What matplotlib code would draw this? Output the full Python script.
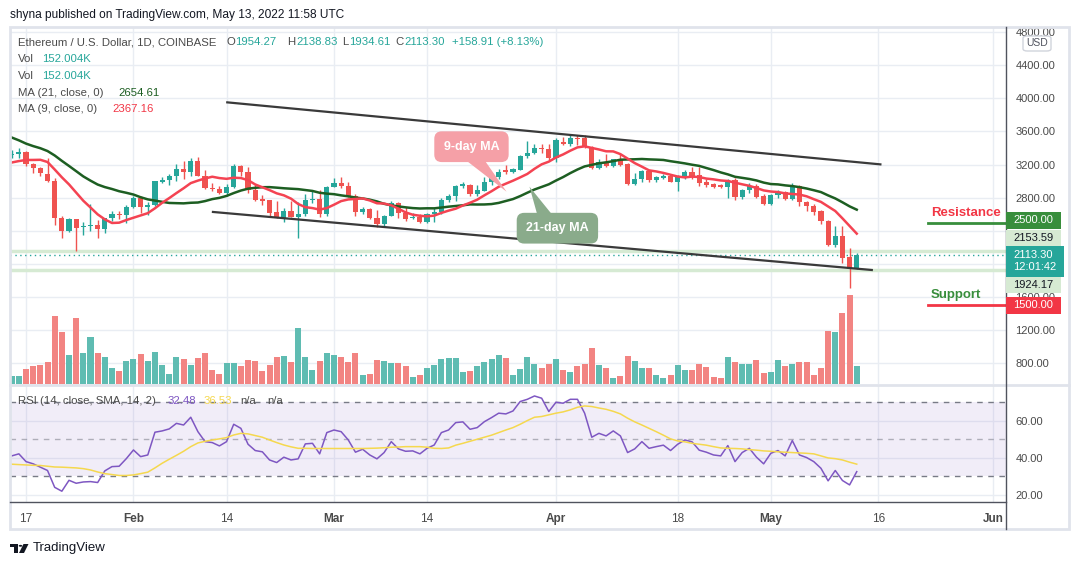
import numpy as np
import pandas as pd
import matplotlib
matplotlib.use("Agg")
import matplotlib.pyplot as plt
import matplotlib.dates as mdates
from matplotlib.lines import Line2D
from matplotlib.patches import Polygon, Rectangle, Circle, FancyBboxPatch
from matplotlib.transforms import blended_transform_factory

plt.rcParams["font.family"] = ["Liberation Sans", "DejaVu Sans"]

# ETH/USD daily candles (Coinbase), 15 Jan - 13 May 2022
first_day = "2022-01-15"
opens = [3310, 3330, 3355, 3207, 3164, 3090, 3000, 2560, 2400, 2540,
         2447, 2463, 2475, 2420, 2550, 2607, 2592, 2685, 2793, 2688,
         2712, 2995, 3014, 3066, 3150, 3115, 3243, 3066, 2920, 2900,
         2857, 2932, 3185, 3115, 2889, 2785, 2770, 2625, 2551, 2640,
         2572, 2605, 2773, 2785, 2608, 2929, 2974, 2945, 2825, 2624,
         2664, 2551, 2479, 2580, 2732, 2612, 2555, 2567, 2511, 2600,
         2625, 2772, 2815, 2945, 2955, 2850, 2885, 2985, 3045, 3140,
         3115, 3140, 3300, 3335, 3400, 3390, 3275, 3470, 3450, 3522,
         3515, 3415, 3163, 3227, 3187, 3265, 3207, 2970, 3026, 3122,
         3014, 3040, 3065, 2990, 3050, 3110, 3075, 2990, 2970, 2952,
         2925, 3010, 2805, 2889, 2940, 2825, 2720, 2833, 2870, 2780,
         2943, 2745, 2700, 2640, 2520, 2225, 2339, 2081, 1954.27]
highs = [3375, 3395, 3367, 3220, 3175, 3275, 3036, 2575, 2560, 2545,
         2510, 2724, 2530, 2560, 2640, 2640, 2712, 2820, 2820, 2745,
         3005, 3050, 3082, 3210, 3245, 3275, 3290, 3140, 2975, 2945,
         2960, 3210, 3200, 3170, 2960, 2830, 2775, 2760, 2680, 2760,
         2744, 2850, 2882, 2893, 2941, 3042, 3050, 2990, 2840, 2690,
         2680, 2650, 2590, 2760, 2752, 2690, 2610, 2600, 2610, 2680,
         2800, 2848, 2950, 2985, 2965, 2950, 3055, 3075, 3142, 3195,
         3160, 3315, 3480, 3450, 3445, 3445, 3517, 3535, 3565, 3556,
         3557, 3420, 3267, 3323, 3270, 3323, 3215, 3094, 3133, 3130,
         3065, 3085, 3080, 3075, 3130, 3170, 3175, 3025, 2980, 2965,
         3030, 3040, 2910, 2977, 2960, 2840, 2845, 2890, 2885, 2975,
         2955, 2760, 2720, 2652, 2535, 2459, 2458, 2190, 2138.83]
lows = [3275, 3283, 3180, 3094, 3060, 2994, 2470, 2310, 2390, 2157,
        2350, 2398, 2318, 2380, 2520, 2545, 2495, 2670, 2620, 2596,
        2700, 2975, 2953, 3000, 3030, 3060, 3060, 2900, 2880, 2850,
        2815, 2920, 3066, 2853, 2760, 2712, 2585, 2550, 2503, 2565,
        2310, 2585, 2732, 2572, 2583, 2925, 2921, 2810, 2584, 2600,
        2543, 2451, 2460, 2575, 2560, 2520, 2540, 2495, 2500, 2510,
        2600, 2750, 2760, 2915, 2825, 2825, 2880, 2955, 3020, 3080,
        3095, 3130, 3275, 3325, 3345, 3260, 3227, 3440, 3428, 3430,
        3405, 3150, 3147, 3170, 3175, 3185, 2950, 2955, 2990, 2995,
        2995, 3030, 2985, 2880, 3030, 3030, 2945, 2930, 2915, 2915,
        2800, 2777, 2790, 2860, 2792, 2715, 2710, 2793, 2770, 2770,
        2696, 2640, 2592, 2479, 2222, 2210, 2009, 1715, 1934.61]
closes = [3330, 3350, 3207, 3164, 3095, 2998, 2560, 2400, 2540, 2440,
          2463, 2475, 2420, 2550, 2607, 2592, 2685, 2793, 2688, 2712,
          3002, 3014, 3066, 3150, 3115, 3243, 3066, 2920, 2900, 2857,
          2932, 3185, 3115, 2889, 2773, 2760, 2612, 2551, 2640, 2572,
          2605, 2773, 2785, 2608, 2929, 2974, 2945, 2820, 2624, 2664,
          2551, 2479, 2580, 2732, 2612, 2543, 2567, 2511, 2600, 2632,
          2772, 2825, 2945, 2960, 2840, 2898, 2985, 3045, 3115, 3110,
          3150, 3302, 3335, 3396, 3385, 3275, 3495, 3450, 3515, 3510,
          3415, 3163, 3227, 3187, 3263, 3200, 2965, 3026, 3122, 3014,
          3046, 3065, 2990, 3066, 3110, 3050, 2980, 2955, 2930, 2925,
          3010, 2805, 2889, 2945, 2813, 2720, 2833, 2873, 2780, 2943,
          2745, 2700, 2632, 2518, 2225, 2339, 2077, 1950, 2113.30]
volume_k = [66, 66, 125, 152, 158, 183, 565, 432, 241, 548,
            257, 390, 257, 224, 133, 108, 191, 208, 249, 191,
            266, 158, 83, 224, 208, 158, 216, 257, 116, 83,
            174, 174, 149, 199, 191, 108, 158, 224, 232, 183,
            465, 224, 116, 191, 257, 241, 224, 183, 257, 75,
            83, 199, 191, 174, 174, 149, 58, 75, 133, 158,
            208, 216, 216, 100, 108, 149, 183, 208, 241, 216,
            75, 125, 224, 166, 133, 166, 208, 116, 100, 149,
            166, 299, 158, 133, 50, 66, 232, 191, 133, 133,
            75, 50, 75, 158, 116, 116, 166, 141, 58, 50,
            224, 183, 166, 166, 199, 91, 100, 199, 149, 166,
            183, 183, 75, 133, 440, 432, 590, 739, 152.004]
# closes of the 21 days before the window, only there to seed the moving averages
prior_closes = [4097, 4067, 4038, 3795, 3630, 3713, 3683, 3765, 3829, 3762, 3795,
                3542, 3408, 3193, 3092, 3157, 3080, 3238, 3372, 3248, 3310]

rsi_values = [41.0, 42.1, 37.9, 36.7, 34.9, 33.1, 24.0, 21.9, 27.8, 26.2,
              26.9, 27.1, 26.6, 32.9, 35.2, 35.4, 39.5, 44.2, 40.6, 41.5,
              53.8, 54.5, 55.6, 58.6, 57.7, 61.9, 54.1, 48.7, 48.2, 46.4,
              48.7, 58.1, 55.9, 47.3, 43.9, 43.2, 38.8, 37.4, 40.3, 38.8,
              39.4, 47.5, 47.8, 42.1, 53.6, 55.0, 54.1, 49.6, 43.0, 44.6,
              41.5, 39.4, 42.8, 48.7, 44.8, 43.5, 43.7, 42.1, 45.1, 46.9,
              53.6, 55.0, 59.0, 59.4, 55.4, 56.3, 59.5, 61.7, 64.1, 63.7,
              65.3, 70.4, 71.6, 73.4, 72.2, 65.0, 70.0, 69.5, 71.6, 71.6,
              64.1, 51.1, 53.2, 51.8, 54.5, 51.8, 42.8, 44.8, 48.7, 45.1,
              46.0, 46.8, 43.9, 47.3, 49.6, 48.6, 44.1, 43.0, 41.5, 41.0,
              46.6, 37.9, 42.8, 45.1, 40.3, 36.7, 42.4, 43.9, 41.0, 49.3,
              41.5, 40.1, 37.9, 34.3, 27.5, 33.1, 27.7, 25.3, 32.48]
rsi_sma = [36.5, 36.3, 36.1, 35.9, 35.8, 35.4, 35.0, 34.9, 34.7, 34.5,
           34.1, 33.4, 32.3, 31.4, 30.9, 30.4, 30.4, 30.7, 31.4, 32.2,
           34.5, 37.0, 39.2, 41.3, 43.5, 46.0, 48.0, 48.9, 49.6, 50.2,
           50.9, 52.3, 53.2, 52.9, 52.0, 51.1, 49.6, 48.2, 46.9, 45.9,
           45.1, 45.1, 45.0, 45.0, 45.0, 45.0, 45.0, 45.0, 45.0, 45.0,
           45.1, 45.2, 45.4, 45.7, 45.8, 46.0, 46.0, 46.0, 45.7, 45.1,
           45.0, 45.3, 46.8, 47.8, 48.9, 50.0, 51.1, 52.2, 53.6, 55.0,
           56.3, 58.1, 60.1, 61.9, 62.3, 63.2, 64.1, 64.8, 65.9, 67.3,
           68.0, 67.7, 66.9, 66.2, 65.1, 63.7, 61.4, 59.4, 57.7, 55.9,
           54.1, 52.2, 50.2, 49.1, 48.6, 47.8, 47.3, 46.8, 46.0, 45.3,
           45.1, 45.0, 44.8, 44.4, 44.1, 43.7, 43.5, 43.2, 43.0, 42.8,
           42.6, 42.4, 42.1, 41.0, 39.9, 39.5, 38.8, 37.6, 36.53]

tick_days = ["2022-01-17", "2022-02-01", "2022-02-14", "2022-03-01", "2022-03-14",
             "2022-04-01", "2022-04-18", "2022-05-01", "2022-05-16", "2022-06-01"]
tick_names = ["17", "Feb", "14", "Mar", "14", "Apr", "18", "May", "16", "Jun"]
month_names = ["Feb", "Mar", "Apr", "May", "Jun"]
price_ticks = [800, 1200, 1600, 2000, 2400, 2800, 3200, 3600, 4000, 4400, 4800]
hidden_price_labels = [2000, 2400]   # covered by the price tags on the axis
rsi_ticks = [20, 40, 60]

# channel lines drawn on the chart: (days after first_day, price)
upper_days, upper_prices = [30.1, 121.3], [3950, 3202]
lower_days, lower_prices = [28.1, 120.1], [2628, 1928]
resistance, support, levels_from = 2500, 1500, "2022-05-23"
day_high, day_low = 2153.59, 1924.17

GREEN, RED = "#26a69a", "#ef5350"
GRID = "#e9edf3"
TXT = "#4a4a4a"

W, H = 1079, 565
def fx(px):
    return px / W
def fy(py):
    return 1 - py / H

x0 = mdates.date2num(pd.Timestamp(first_day))
x = x0 + np.arange(len(closes))
o, h, l, c = map(np.array, (opens, highs, lows, closes))
up = c >= o
cols = np.where(up, GREEN, RED)
vol_cols = np.where(up, "#5fbcb2", "#f28482")

allc = pd.Series(prior_closes + closes, dtype=float)
ma9 = allc.rolling(9).mean().values[len(prior_closes):]
ma21 = allc.rolling(21).mean().values[len(prior_closes):]

fig = plt.figure(figsize=(W / 100, H / 100), dpi=100)
L, R = 10, 1005.7
ax = fig.add_axes([fx(L), fy(384), (R - L) / W, (384 - 27) / H])
rsi = fig.add_axes([fx(L), fy(502.3), (R - L) / W, (502.3 - 386) / H], sharex=ax)

# volume overlay first, twinx moves the price ticks to the left otherwise
vol = ax.twinx()
vol.bar(x, volume_k, width=0.84, color=vol_cols, lw=0)
vol.set_ylim(0, 2965)
vol.set_yticks([])
for s in vol.spines.values():
    s.set_visible(False)

# price pane
ax.set_axisbelow(True)
ax.grid(True, color=GRID, lw=1)
ax.vlines(x, l, h, colors=cols, lw=1, zorder=2)
ax.bar(x, np.maximum(np.abs(c - o), 10), bottom=np.minimum(o, c), width=0.72,
       color=cols, lw=0, zorder=3)
ax.plot(x, ma21, color="#1d5e22", lw=1.8, zorder=4)
ax.plot(x, ma9, color="#f44352", lw=1.8, zorder=4)
ax.plot(x0 + np.array(upper_days), upper_prices, color="#3a3a3a", lw=1.6, zorder=4)
ax.plot(x0 + np.array(lower_days), lower_prices, color="#3a3a3a", lw=1.6, zorder=4)
ax.axhline(day_high, color="#d6ead3", lw=2.5, zorder=1.5)
ax.axhline(day_low, color="#d6ead3", lw=2.5, zorder=1.5)
ax.axhline(closes[-1], color=GREEN, lw=1, ls=(0, (1, 2.5)), zorder=1.6)

xmin, xmax = x0 - 0.24, x0 + 138.8
ax.set_xlim(xmin, xmax)
ax.set_ylim(552.7, 4859)
lv = mdates.date2num(pd.Timestamp(levels_from))
ax.plot([lv, xmax], [resistance, resistance], color="#388e3c", lw=2, zorder=5, clip_on=False)
ax.plot([lv, xmax], [support, support], color="#f23645", lw=2, zorder=5, clip_on=False)
ax.annotate("Resistance", (lv, resistance), xytext=(2, 2.5), textcoords="offset points",
            color="#f23645", fontsize=9.5, fontweight="bold", va="bottom", ha="left")
ax.annotate("Support", (lv, support), xytext=(2, 3), textcoords="offset points",
            color="#388e3c", fontsize=9.5, fontweight="bold", va="bottom", ha="left")

# callouts
def callout(text, center, tail, fc):
    cx, cy = center
    ax.add_patch(Polygon([(x0 + d, p) for d, p in tail], closed=True, fc=fc, ec="none", zorder=6))
    ax.text(x0 + cx, cy, text, ha="center", va="center", color="white", fontsize=9,
            fontweight="bold", zorder=7,
            bbox=dict(boxstyle="round,pad=0.75,rounding_size=0.6", fc=fc, ec="none"))

callout("9-day MA", (64.2, 3415), [(63.0, 3280), (65.8, 3280), (69.1, 2872)], "#f5a0a7")
callout("21-day MA", (76.2, 2432), [(73.5, 2560), (75.8, 2560), (72.3, 2933)], "#8aab8b")

ax.set_xticks(mdates.date2num(pd.to_datetime(tick_days)))
ax.yaxis.tick_right()
ax.yaxis.set_label_position("right")
ax.set_yticks(price_ticks)
ax.set_yticklabels(["" if v in hidden_price_labels else f"{v:.2f}" for v in price_ticks])
ax.tick_params(axis="y", left=False, labelleft=False, right=False, labelright=True,
               length=0, pad=7, labelsize=8, labelcolor=TXT)
ax.tick_params(axis="x", bottom=False, labelbottom=False)
for s in ax.spines.values():
    s.set_visible(False)

# RSI pane
rsi.set_axisbelow(True)
rsi.axhspan(30, 70, color="#7e57c2", alpha=0.1, lw=0)
for lvl, a in ((70, 1), (50, 0.55), (30, 1)):
    rsi.axhline(lvl, color="#787b86", lw=1, ls=(0, (4, 4)), alpha=a)
rsi.plot(x, rsi_values, color="#7e57c2", lw=1.1)
rsi.plot(x, rsi_sma, color="#f5d84e", lw=1.1)
rsi.set_ylim(15.9, 78.8)
rsi.yaxis.tick_right()
rsi.set_yticks(rsi_ticks)
rsi.set_yticklabels([f"{v:.2f}" for v in rsi_ticks])
rsi.grid(True, color=GRID, lw=1)
rsi.set_xticks(mdates.date2num(pd.to_datetime(tick_days)))
rsi.set_xticklabels(tick_names)
rsi.tick_params(axis="y", length=0, pad=7, labelsize=8, labelcolor=TXT)
rsi.tick_params(axis="x", length=0, pad=8, labelsize=8.5, labelcolor=TXT)
for t in rsi.get_xticklabels():
    if t.get_text() in month_names:
        t.set_fontweight("bold")
for s in rsi.spines.values():
    s.set_visible(False)
rsi.set_xlim(xmin, xmax)

# frame, axis lines, separator
fig.add_artist(Rectangle((fx(10), fy(529)), (1069.3 - 10) / W, (529 - 27) / H,
                         transform=fig.transFigure, fill=False, ec="#e0e3eb", lw=2))
fig.add_artist(Line2D([fx(10), fx(1069)], [fy(385), fy(385)], color="#e0e3eb", lw=2))
fig.add_artist(Line2D([fx(R), fx(R)], [fy(27), fy(529)], color="#50535e", lw=1))
fig.add_artist(Line2D([fx(10), fx(R)], [fy(502.3), fy(502.3)], color="#50535e", lw=1))

# price tags on the axis
tr = blended_transform_factory(fig.transFigure, ax.transData)
usd_px = (4859 - 552.7) / (384 - 27)
def tag(price, text, fc, tc, shift=0, hpx=16.7, wpx=55.5):
    yc = price + shift * usd_px
    fig.add_artist(Rectangle((fx(R), yc - hpx / 2 * usd_px), wpx / W, hpx * usd_px,
                             transform=tr, fc=fc, ec="none", zorder=5))
    fig.text(fx(1013.5), yc, text, transform=tr, color=tc, fontsize=8, va="center",
             ha="left", zorder=6, linespacing=1.15)

tag(resistance, "2500.00", "#388e3c", "white", shift=2.3)
tag(day_high, f"{day_high:.2f}", "#d6ead3", "#131722", shift=12.8)
tag(closes[-1], "2113.30\n12:01:42", GREEN, "white", shift=-6.4, hpx=31, wpx=58.5)
tag(day_low, f"{day_low:.2f}", "#d6ead3", "#131722", shift=-14.7)
tag(support, "1500.00", "#f23645", "white")

fig.add_artist(FancyBboxPatch((fx(1023), fy(51)), 28 / W, 15 / H, transform=fig.transFigure,
                              boxstyle="round,pad=0,rounding_size=0.004", fc="white",
                              ec="#d1d4dc", lw=1, zorder=5))
fig.text(fx(1037), fy(43.5), "USD", color="#50535e", fontsize=7.5, ha="center", va="center", zorder=6)

# header and legends
fig.text(fx(10), fy(15), "shyna published on TradingView.com, May 13, 2022 11:58 UTC",
         color="#131722", fontsize=8.6, va="center")
row = 42.3
fs = 8.2
fig.text(fx(17.9), fy(row), "Ethereum / U.S. Dollar, 1D, COINBASE", color=TXT, fontsize=fs, va="center")
for px, s, col in ((226.5, "O", TXT), (235, "1954.27", GREEN), (287.5, "H", TXT), (296.5, "2138.83", GREEN),
                   (342, "L", TXT), (349, "1934.61", GREEN), (395.5, "C", TXT), (404, "2113.30", GREEN),
                   (452, "+158.91 (+8.13%)", GREEN)):
    fig.text(fx(px), fy(row), s, color=col, fontsize=fs, va="center")
for r in (59.3, 76):
    fig.text(fx(17.9), fy(r), "Vol", color=TXT, fontsize=fs, va="center")
    fig.text(fx(42), fy(r), "152.004K", color=GREEN, fontsize=fs, va="center")
fig.text(fx(17.9), fy(92.7), "MA (21, close, 0)", color=TXT, fontsize=fs, va="center")
fig.text(fx(117.9), fy(92.7), "2654.61", color="#1d5e22", fontsize=fs, va="center")
fig.text(fx(17.9), fy(109), "MA (9, close, 0)", color=TXT, fontsize=fs, va="center")
fig.text(fx(112.5), fy(109), "2367.16", color="#f23645", fontsize=fs, va="center")

rrow = 400.7
fig.text(fx(17.9), fy(rrow), "RSI (14, close, SMA, 14, 2)", color=TXT, fontsize=fs, va="center")
fig.text(fx(167.7), fy(rrow), f"{rsi_values[-1]:.2f}", color="#7e57c2", fontsize=fs, va="center")
fig.text(fx(203.9), fy(rrow), f"{rsi_sma[-1]:.2f}", color="#f5d84e", fontsize=fs, va="center")
fig.text(fx(240.4), fy(rrow), "n/a", color=TXT, fontsize=fs, va="center")
fig.text(fx(266.9), fy(rrow), "n/a", color=TXT, fontsize=fs, va="center")

# TradingView logo
k = "#131722"
fig.add_artist(Rectangle((fx(10), fy(547)), 8 / W, 3.5 / H, transform=fig.transFigure, fc=k, ec="none"))
fig.add_artist(Rectangle((fx(14), fy(553)), 4 / W, 9 / H, transform=fig.transFigure, fc=k, ec="none"))
fig.add_artist(Circle((fx(20.5), fy(545.8)), 1.8 / W, transform=fig.transFigure, fc=k, ec="none"))
fig.add_artist(Polygon([(fx(19), fy(553)), (fx(23.5), fy(544)), (fx(28.5), fy(544)), (fx(24), fy(553))],
                       closed=True, transform=fig.transFigure, fc=k, ec="none"))
fig.text(fx(33), fy(548), "TradingView", color=k, fontsize=9.5, va="center")

fig.savefig("out.png", dpi=100, facecolor="white")
